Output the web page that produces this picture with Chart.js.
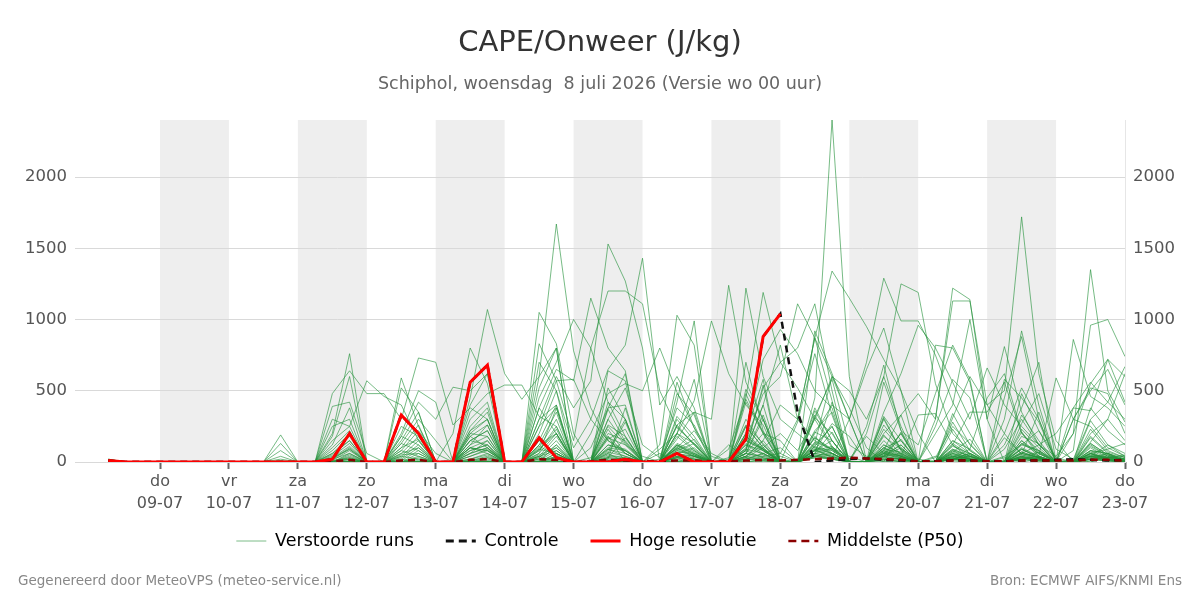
<!DOCTYPE html>
<html><head><meta charset="utf-8">
<script src="https://cdn.jsdelivr.net/npm/chart.js@4.4.1/dist/chart.umd.min.js"></script>
<style>
html,body{margin:0;padding:0;background:#fff;}
#wrap{position:relative;width:1200px;height:600px;font-family:"DejaVu Sans",sans-serif;}
#c{position:absolute;left:0;top:0;}
.t{position:absolute;left:0;width:1200px;text-align:center;white-space:pre;}
#title{top:21px;line-height:40px;font-size:29px;color:#333;}
#sub{top:71px;line-height:24px;font-size:17.5px;color:#666;}
.f{position:absolute;top:570px;line-height:20px;font-size:13.5px;color:#888;white-space:pre;}
#fl{left:18px;}
#fr{right:18px;}
</style></head>
<body><div id="wrap">
<canvas id="c" width="1200" height="600"></canvas>
<div id="title" class="t">CAPE/Onweer (J/kg)</div>
<div id="sub" class="t">Schiphol, woensdag  8 juli 2026 (Versie wo 00 uur)</div>
<div id="fl" class="f">Gegenereerd door MeteoVPS (meteo-service.nl)</div>
<div id="fr" class="f">Bron: ECMWF AIFS/KNMI Ens</div>
</div>
<script>
// hours since 09-07 00:00, 6-hourly steps
const hours = [-18,-12,-6, 0,6,12,18, 24,30,36,42, 48,54,60,66, 72,78,84,90, 96,102,108,114, 120,126,132,138, 144,150,156,162, 168,174,180,186, 192,198,204,210, 216,222,228,234, 240,246,252,258, 264,270,276,282, 288,294,300,306, 312,318,324,330, 336];
const tickHours = [0,24,48,72,96,120,144,168,192,216,240,264,288,312,336];
const dayNames = ['do','vr','za','zo','ma','di','wo','do','vr','za','zo','ma','di','wo','do'];
const dayDates = ['09-07','10-07','11-07','12-07','13-07','14-07','15-07','16-07','17-07','18-07','19-07','20-07','21-07','22-07','23-07'];
const shadedDays = [0,48,96,144,192,240,288];
const yTicks = [0,500,1000,1500,2000];

const hres = [10,0,0, 0,0,0,0, 0,0,0,0, 0,0,20,200, 0,0,330,200, 0,0,560,680, 0,0,170,30, 0,0,0,20, 0,0,60,0, 0,0,160,880, 1040];
const control = [10,0,0, 0,0,0,0, 0,0,0,0, 0,0,20,200, 0,0,330,200, 0,0,560,680, 0,0,170,30, 0,0,0,20, 0,0,60,0, 0,0,160,880, 1040,350,0,10, 20,25,15,10, 5,5,10,10, 5,5,10,10, 15,20,15,10, 15];
const p50 = [8,0,0, 0,0,0,0, 0,0,0,0, 0,0,5,15, 0,0,10,15, 0,0,15,20, 0,0,20,15, 0,5,15,10, 5,5,10,10, 5,5,10,15, 10,15,20,25, 30,25,20,15, 5,5,10,10, 5,5,10,10, 10,10,15,15, 10];

const m01 = [20,0,0, 0,0,0,0, 0,0,0,190, 0,0,60,150, 0,0,80,40, 0,0,120,260, 0,0,90,200, 0,30,250,120, 40,0,320,180, 0,90,440,210, 60,300,150,90, 20,180,60,40, 0,30,250,130, 0,90,300,120, 40,200,1350,500, 280];
const m02 = [10,0,0, 0,0,0,0, 0,0,0,130, 0,0,30,90, 0,0,40,20, 0,0,60,150, 0,0,30,120, 0,0,420,180, 0,0,560,240, 60,0,180,90, 10,0,320,580, 120,40,0,210, 0,0,80,20, 0,170,60,30, 0,80,960,1000, 740];
const m03 = [5,0,0, 0,0,0,0, 0,0,0,80, 0,0,20,60, 0,0,20,0, 0,0,40,90, 0,0,150,60, 0,0,80,300, 0,0,120,50, 0,30,260,130, 0,0,60,420, 0,0,180,90, 20,0,40,10, 0,0,270,480, 90,20,300,420, 670];
const m04 = [0,0,0, 0,0,0,0, 0,0,0,40, 0,0,10,30, 0,0,0,0, 0,0,20,50, 0,0,40,0, 0,0,0,0, 0,0,40,20, 0,0,80,30, 0,0,30,100, 40,0,20,0, 0,10,30,0, 0,30,0,20, 0,0,140,300, 620];
const m05 = [10,0,0, 0,0,0,0, 0,0,0,20, 0,0,10,20, 0,0,0,0, 0,0,10,30, 0,0,20,30, 0,0,160,230, 0,0,260,350, 0,20,90,400, 0,0,130,600, 380,100,0,0, 0,0,20,60, 0,0,480,220, 0,0,60,90, 130];
const m06 = [15,0,0, 0,0,0,0, 0,0,0,10, 0,0,480,640, 480,480,300,730, 700,260,380,300, 0,0,120,200, 0,0,230,60, 0,90,200,580, 0,120,30,0, 0,0,80,270, 180,0,40,120, 0,40,0,10, 0,10,90,30, 0,0,40,120, 60];
const m07 = [0,0,0, 0,0,0,0, 0,0,0,0, 0,0,390,420, 60,0,250,180, 0,0,220,300, 0,0,60,380, 0,0,300,520, 120,30,380,260, 0,0,200,580, 0,0,920,620, 300,0,60,200, 0,0,280,80, 0,0,150,40, 590,300,250,100, 40];
const m08 = [10,0,0, 0,0,0,0, 0,0,0,0, 0,0,300,250, 0,0,180,120, 0,0,150,220, 0,0,0,60, 0,0,40,30, 0,20,90,160, 0,0,510,300, 0,0,110,60, 0,0,10,30, 0,0,120,350, 350,560,200,80, 10,0,80,60, 20];
const m09 = [5,0,0, 0,0,0,0, 0,0,0,0, 0,0,250,300, 0,0,130,80, 0,0,80,120, 0,0,0,0, 0,0,60,280, 0,0,480,330, 0,0,160,90, 0,280,760,330, 0,0,0,20, 0,0,60,30, 0,0,20,40, 0,0,0,30, 10];
const m10 = [10,0,0, 0,0,0,0, 0,0,0,0, 0,0,200,760, 0,0,100,160, 0,0,200,180, 0,0,0,40, 0,0,30,20, 0,0,100,220, 40,0,80,540, 0,0,180,60, 0,250,680,220, 0,0,20,10, 0,0,60,120, 200,380,360,720, 420];
const m11 = [0,0,0, 0,0,0,0, 0,0,0,0, 0,0,180,600, 0,0,60,100, 0,0,150,120, 0,0,0,120, 0,0,30,170, 0,60,0,40, 0,0,60,300, 0,0,40,20, 0,0,120,60, 0,0,30,0, 0,40,120,220, 30,0,20,60, 0];
const m12 = [20,0,0, 0,0,0,0, 0,0,0,0, 0,0,120,380, 0,0,50,60, 0,0,100,80, 0,0,80,230, 0,0,180,0, 0,0,30,50, 0,0,120,80, 0,0,60,210, 0,0,300,80, 0,0,80,40, 0,0,10,70, 0,860,460,380, 250];
const m13 = [5,0,0, 0,0,0,0, 0,0,0,0, 0,0,150,250, 570,460,400,150, 0,0,60,100, 0,0,50,100, 0,0,20,380, 0,0,120,70, 0,0,30,20, 0,0,310,200, 0,0,150,40, 330,340,120,20, 0,0,50,350, 0,0,100,30, 50];
const m14 = [0,0,0, 0,0,0,0, 0,0,0,0, 0,0,100,220, 0,0,590,250, 0,0,180,100, 0,0,40,80, 0,0,200,150, 0,0,70,60, 0,0,700,220, 0,0,80,50, 0,0,60,160, 0,0,20,0, 0,200,520,300, 0,0,180,70, 30];
const m15 = [10,0,0, 0,0,0,0, 0,0,0,0, 0,0,80,200, 0,0,520,350, 0,0,100,60, 0,0,110,50, 0,0,520,300, 0,0,40,20, 0,0,150,90, 0,0,220,350, 0,0,40,20, 0,0,340,120, 0,0,30,20, 0,0,10,40, 20];
const m16 = [0,0,0, 0,0,0,0, 0,0,0,0, 0,0,60,180, 0,0,200,500, 420,0,100,80, 0,0,90,60, 0,0,100,80, 0,0,30,0, 0,0,40,120, 0,0,90,30, 0,0,80,330, 0,250,580,450, 0,0,30,10, 0,20,0,50, 10];
const m17 = [5,0,0, 0,0,0,0, 0,0,0,0, 0,0,50,150, 0,0,180,420, 300,525,500,620, 0,0,300,400, 0,0,60,0, 0,0,80,130, 0,0,20,60, 0,0,380,150, 0,0,20,0, 0,0,150,90, 0,0,70,30, 0,0,30,0, 0];
const m18 = [0,0,0, 0,0,0,0, 0,0,0,0, 0,0,40,130, 0,0,150,350, 0,200,800,550, 0,0,380,200, 0,0,640,570, 0,0,200,130, 0,0,60,330, 0,0,170,90, 0,0,40,60, 0,0,230,50, 0,0,120,80, 0,0,380,220, 120];
const m19 = [10,0,0, 0,0,0,0, 0,0,0,0, 0,0,30,110, 0,0,130,300, 150,0,450,1070, 620,440,600,800, 0,0,120,90, 0,0,30,20, 0,0,40,150, 0,0,60,40, 0,0,260,100, 0,0,40,10, 0,0,20,30, 0,0,40,20, 10];
const m20 = [5,0,0, 0,0,0,0, 0,0,0,0, 0,0,20,100, 0,0,100,260, 0,0,400,620, 0,0,250,380, 0,0,300,130, 0,0,90,40, 0,0,300,120, 0,0,50,20, 0,0,190,50, 0,0,30,90, 450,620,210,40, 0,0,60,10, 0];
const m21 = [0,0,0, 0,0,0,0, 0,0,0,0, 0,0,20,90, 0,0,80,220, 60,0,350,480, 540,540,320,250, 0,0,90,40, 0,0,60,100, 0,0,200,90, 0,0,90,60, 0,0,30,20, 0,0,90,40, 0,0,40,0, 0,0,50,30, 20];
const m22 = [0,0,0, 0,0,0,0, 0,0,0,0, 0,0,10,80, 0,0,60,180, 0,0,300,420, 0,0,1050,830, 200,0,180,60, 0,0,130,80, 0,0,40,20, 0,0,110,250, 0,0,70,30, 0,0,20,40, 0,0,150,60, 0,300,520,480, 200];
const m23 = [10,0,0, 0,0,0,0, 0,0,0,0, 0,0,0,60, 0,0,40,150, 0,0,250,380, 0,0,830,570, 580,300,150,80, 0,0,250,120, 0,0,130,60, 0,0,80,40, 0,0,40,100, 0,0,10,20, 0,0,330,150, 0,0,20,30, 40];
const m24 = [0,0,0, 0,0,0,0, 0,0,0,0, 0,0,0,50, 0,0,30,120, 0,0,220,350, 0,0,700,500, 0,0,380,620, 0,0,60,40, 0,0,420,200, 0,0,30,20, 0,0,560,220, 120,480,820,580, 0,0,90,30, 0,0,230,80, 30];
const m25 = [0,0,0, 0,0,0,0, 0,0,0,0, 0,0,0,40, 0,0,20,100, 0,0,200,300, 0,0,600,1670, 780,380,150,60, 0,0,100,50, 0,0,20,10, 0,0,140,90, 0,0,30,20, 0,0,70,160, 0,0,20,0, 0,0,120,40, 10];
const m26 = [5,0,0, 0,0,0,0, 0,0,0,0, 0,0,0,30, 0,0,10,80, 0,0,180,260, 0,0,520,800, 0,0,370,140, 0,0,200,90, 0,0,60,40, 0,0,210,150, 0,0,50,120, 0,0,20,10, 0,300,920,400, 0,0,170,60, 20];
const m27 = [0,0,0, 0,0,0,0, 0,0,0,0, 0,0,0,20, 0,0,0,60, 0,0,150,220, 0,0,450,700, 1000,800,420,300, 0,0,110,60, 0,0,250,100, 0,0,40,30, 300,650,940,500, 0,0,60,20, 0,0,30,40, 0,0,80,30, 0];
const m28 = [0,0,0, 0,0,0,0, 0,0,0,0, 0,0,0,20, 0,0,0,40, 0,0,120,180, 0,0,380,650, 570,1150,800,640, 0,0,100,40, 0,0,60,30, 0,0,330,110, 0,0,80,40, 0,0,110,60, 0,0,20,10, 0,0,60,20, 0];
const m29 = [0,0,0, 0,0,0,0, 0,0,0,0, 0,0,0,10, 0,0,0,30, 0,0,100,150, 0,0,300,600, 380,570,1530,1270, 800,0,300,150, 0,0,180,80, 0,0,60,40, 0,0,90,70, 0,0,30,20, 0,0,180,130, 0,0,30,60, 10];
const m30 = [0,0,0, 0,0,0,0, 0,0,0,0, 0,0,0,0, 0,0,0,20, 0,0,80,120, 0,0,250,570, 150,800,1200,1200, 1110,500,240,130, 0,0,150,80, 0,0,40,20, 0,0,70,40, 0,0,90,40, 0,0,20,30, 0,0,40,20, 0];
const m31 = [0,0,0, 0,0,0,0, 0,0,0,0, 0,0,0,0, 0,0,0,10, 0,0,60,100, 0,0,200,500, 100,300,650,820, 1430,400,600,380, 0,0,90,60, 0,0,130,60, 0,0,40,20, 0,820,800,560, 0,0,100,40, 0,0,20,10, 0];
const m32 = [0,0,0, 0,0,0,0, 0,0,0,0, 0,0,0,0, 0,0,0,0, 0,0,40,80, 0,0,150,400, 0,200,480,550, 500,800,490,240, 0,0,120,50, 0,0,80,110, 0,0,20,10, 0,0,130,50, 0,0,40,70, 0,0,110,40, 10];
const m33 = [0,0,0, 0,0,0,0, 0,0,0,0, 0,0,0,0, 0,0,0,0, 0,0,20,60, 0,0,120,350, 0,100,380,400, 0,120,1030,820, 0,0,250,100, 0,0,50,30, 0,0,230,90, 0,0,40,20, 0,580,450,280, 0,0,40,30, 20];
const m34 = [0,0,0, 0,0,0,0, 0,0,0,0, 0,0,0,0, 0,0,0,0, 0,0,10,40, 0,0,100,300, 0,0,260,180, 0,0,420,990, 0,0,480,200, 0,0,170,80, 0,0,50,30, 0,0,20,40, 0,0,230,100, 0,0,20,10, 0];
const m35 = [0,0,0, 0,0,0,0, 0,0,0,0, 0,0,0,0, 0,0,0,0, 0,0,0,30, 0,0,80,250, 0,0,170,120, 0,0,200,430, 990,620,400,260, 0,0,100,60, 0,0,310,80, 0,0,50,20, 0,0,130,60, 0,380,560,420, 300];
const m36 = [0,0,0, 0,0,0,0, 0,0,0,0, 0,0,0,0, 0,0,0,0, 0,0,0,20, 0,0,60,200, 0,0,120,80, 0,0,160,350, 300,1240,560,300, 0,0,360,150, 0,0,100,40, 0,0,20,60, 0,0,70,30, 0,0,290,120, 40];
const m37 = [0,0,0, 0,0,0,0, 0,0,0,0, 0,0,0,0, 0,0,0,0, 0,0,0,10, 0,0,40,180, 0,0,90,60, 0,0,260,120, 0,0,1220,600, 300,200,100,80, 0,0,60,30, 0,300,1130,1130, 400,200,50,20, 0,0,130,50, 10];
const m38 = [0,0,0, 0,0,0,0, 0,0,0,0, 0,0,0,0, 0,0,0,0, 0,0,0,0, 0,0,30,150, 0,0,70,40, 0,0,180,80, 0,0,450,1190, 700,520,300,100, 0,0,40,200, 0,0,70,30, 0,0,210,60, 0,0,40,20, 0];
const m39 = [0,0,0, 0,0,0,0, 0,0,0,0, 0,0,0,0, 0,0,0,0, 0,0,0,0, 0,0,20,100, 0,0,50,30, 0,0,120,60, 0,0,200,720, 930,760,500,380, 0,0,80,40, 0,0,40,20, 0,120,380,700, 0,0,60,30, 20];
const m40 = [0,0,0, 0,0,0,0, 0,0,0,0, 0,0,0,0, 0,0,0,0, 0,0,0,0, 0,0,10,80, 0,0,30,20, 0,0,80,40, 0,0,150,480, 600,1110,870,600, 300,0,60,20, 0,0,120,40, 0,0,30,10, 0,0,80,60, 0];
const m41 = [0,0,0, 0,0,0,0, 0,0,0,0, 0,0,0,0, 0,0,0,0, 0,0,0,0, 0,0,0,60, 0,0,20,10, 0,0,60,30, 0,0,100,520, 700,800,1110,500, 0,0,320,150, 0,0,60,20, 0,0,130,80, 0,200,550,720, 600];
const m42 = [0,0,0, 0,0,0,0, 0,0,0,0, 0,0,0,0, 0,0,0,0, 0,0,0,0, 0,0,0,40, 0,0,10,0, 0,0,40,20, 0,0,80,400, 820,300,870,430, 0,0,100,50, 0,0,20,10, 0,450,880,300, 0,0,130,50, 0];
const m43 = [0,0,0, 0,0,0,0, 0,0,0,0, 0,0,0,0, 0,0,0,0, 0,0,0,0, 0,0,0,30, 0,0,0,0, 0,0,30,10, 0,0,60,200, 150,0,450,2400, 600,0,120,60, 0,200,400,1000, 300,0,60,30, 0,0,20,10, 0];
const m44 = [0,0,0, 0,0,0,0, 0,0,0,0, 0,0,0,0, 0,0,0,0, 0,0,0,0, 0,0,0,20, 0,0,0,0, 0,0,20,0, 0,0,40,150, 400,300,870,1340, 1150,950,720,500, 200,0,50,20, 0,0,90,40, 0,0,30,20, 0];
const m45 = [0,0,0, 0,0,0,0, 0,0,0,0, 0,0,0,0, 0,0,0,0, 0,0,0,0, 0,0,0,10, 0,0,0,0, 0,0,10,0, 0,0,30,100, 200,80,300,600, 500,300,600,250, 0,0,150,60, 0,0,40,20, 0,300,500,650, 400];
const m46 = [0,0,0, 0,0,0,0, 0,0,0,0, 0,0,0,0, 0,0,0,0, 0,0,0,0, 0,0,0,0, 0,0,0,0, 0,0,0,0, 0,0,20,60, 100,0,200,400, 300,700,1290,990, 990,750,420,200, 0,0,60,30, 0,0,70,20, 0];
const m47 = [0,0,0, 0,0,0,0, 0,0,0,0, 0,0,0,0, 0,0,0,0, 0,0,0,0, 0,0,0,0, 0,0,0,0, 0,0,0,0, 0,0,10,40, 60,0,120,250, 0,200,600,1250, 1190,550,200,80, 0,0,40,20, 0,0,50,30, 10];
const m48 = [0,0,0, 0,0,0,0, 0,0,0,0, 0,0,0,0, 0,0,0,0, 0,0,0,0, 0,0,0,0, 0,0,0,0, 0,0,0,0, 0,0,0,20, 40,0,80,150, 0,0,350,620, 960,800,560,300, 660,400,250,120, 0,0,60,20, 0];
const m49 = [0,0,0, 0,0,0,0, 0,0,0,0, 0,0,0,0, 0,0,0,0, 0,0,0,0, 0,0,0,0, 0,0,0,0, 0,0,0,0, 0,0,0,10, 20,0,60,100, 0,0,200,330, 480,300,1220,1140, 300,810,350,120, 0,0,40,10, 0];
const m50 = [0,0,0, 0,0,0,0, 0,0,0,0, 0,0,0,0, 0,0,0,0, 0,0,0,0, 0,0,0,0, 0,0,0,0, 0,0,0,0, 0,0,0,0, 10,0,40,60, 0,0,100,150, 0,0,310,600, 400,500,1720,620, 150,0,200,300, 150];

const members = [m01,m02,m03,m04,m05,m06,m07,m08,m09,m10,m11,m12,m13,m14,m15,m16,m17,m18,m19,m20,m21,m22,m23,m24,m25,m26,m27,m28,m29,m30,m31,m32,m33,m34,m35,m36,m37,m38,m39,m40,m41,m42,m43,m44,m45,m46,m47,m48,m49,m50];

const GREEN = 'rgba(36,145,58,0.62)';
const datasets = [
  {label:'Hoge resolutie', data:hres, borderColor:'#ff0000', borderWidth:3, order:0},
  {label:'Middelste (P50)', data:p50, borderColor:'#8b0000', borderWidth:2.5, borderDash:[7,5], order:1},
  {label:'Controle', data:control, borderColor:'#111111', borderWidth:2.5, borderDash:[7,5], order:2}
];
members.forEach(m => datasets.push({label:'Verstoorde runs', data:m, borderColor:GREEN, borderWidth:1, order:3}));

// trailing spaces give the gap between legend entries
const legendItems = [
  {text:'Verstoorde runs   ', strokeStyle:'rgba(36,145,58,0.6)', fillStyle:'rgba(0,0,0,0)', lineWidth:1, lineDash:[], pointStyle:'line', datasetIndex:3, hidden:false},
  {text:'Controle   ', strokeStyle:'#111111', fillStyle:'rgba(0,0,0,0)', lineWidth:3, lineDash:[8,5], pointStyle:'line', datasetIndex:2, hidden:false},
  {text:'Hoge resolutie   ', strokeStyle:'#ff0000', fillStyle:'rgba(0,0,0,0)', lineWidth:3, lineDash:[], pointStyle:'line', datasetIndex:0, hidden:false},
  {text:'Middelste (P50)', strokeStyle:'#8b0000', fillStyle:'rgba(0,0,0,0)', lineWidth:2.5, lineDash:[8,5], pointStyle:'line', datasetIndex:1, hidden:false}
];

const shadePlugin = {
  id:'shade',
  beforeDraw(chart){
    const {ctx, chartArea, scales} = chart;
    const x = scales.x;
    ctx.save();
    ctx.fillStyle = '#eeeeee';
    shadedDays.forEach(h => {
      const x0 = x.getPixelForValue(h), x1 = x.getPixelForValue(h + 24);
      ctx.fillRect(x0, chartArea.top, x1 - x0, chartArea.bottom - chartArea.top);
    });
    ctx.restore();
  }
};

const tickFont = {family:'DejaVu Sans', size:16.5};
new Chart(document.getElementById('c'), {
  type:'line',
  data:{labels:hours, datasets},
  plugins:[shadePlugin],
  options:{
    responsive:false,
    animation:false,
    devicePixelRatio:1,
    layout:{padding:{top:120, left:0, right:0, bottom:40.25}},
    elements:{point:{radius:0, hitRadius:0}, line:{tension:0, fill:false}},
    plugins:{
      tooltip:{enabled:false},
      title:{display:false},
      legend:{
        position:'bottom',
        onClick:null,
        labels:{
          usePointStyle:true, pointStyle:'line', pointStyleWidth:30, padding:15.25,
          color:'#111', font:{family:'DejaVu Sans', size:17.5},
          generateLabels:() => legendItems
        }
      }
    },
    scales:{
      x:{
        type:'linear', min:-29.6, max:336,
        afterBuildTicks:s => { s.ticks = tickHours.map(v => ({value:v})); },
        afterFit:s => { s.height = 55; },
        ticks:{
          autoSkip:false, maxRotation:0, padding:2, color:'#555',
          font:{family:'DejaVu Sans', size:16, lineHeight:1.375},
          callback:(v) => { const i = tickHours.indexOf(v); return [dayNames[i], dayDates[i]]; }
        },
        grid:{display:true, drawOnChartArea:false, drawTicks:true, tickLength:7, tickColor:'#666', tickWidth:2},
        border:{display:false}
      },
      y:{
        position:'left', min:0, max:2400,
        afterBuildTicks:s => { s.ticks = yTicks.map(v => ({value:v})); },
        afterFit:s => { s.width = 75; },
        ticks:{color:'#555', font:tickFont, padding:8, callback:v => String(v)},
        grid:{color:'#d9d9d9', lineWidth:1, drawTicks:false},
        border:{display:false}
      },
      y2:{
        position:'right', min:0, max:2400,
        afterBuildTicks:s => { s.ticks = yTicks.map(v => ({value:v})); },
        afterFit:s => { s.width = 75; },
        ticks:{color:'#555', font:tickFont, padding:8, callback:v => String(v)},
        grid:{display:false, drawTicks:false},
        border:{display:true, color:'#e6e6e6', width:1}
      }
    }
  }
});
</script>
</body></html>
